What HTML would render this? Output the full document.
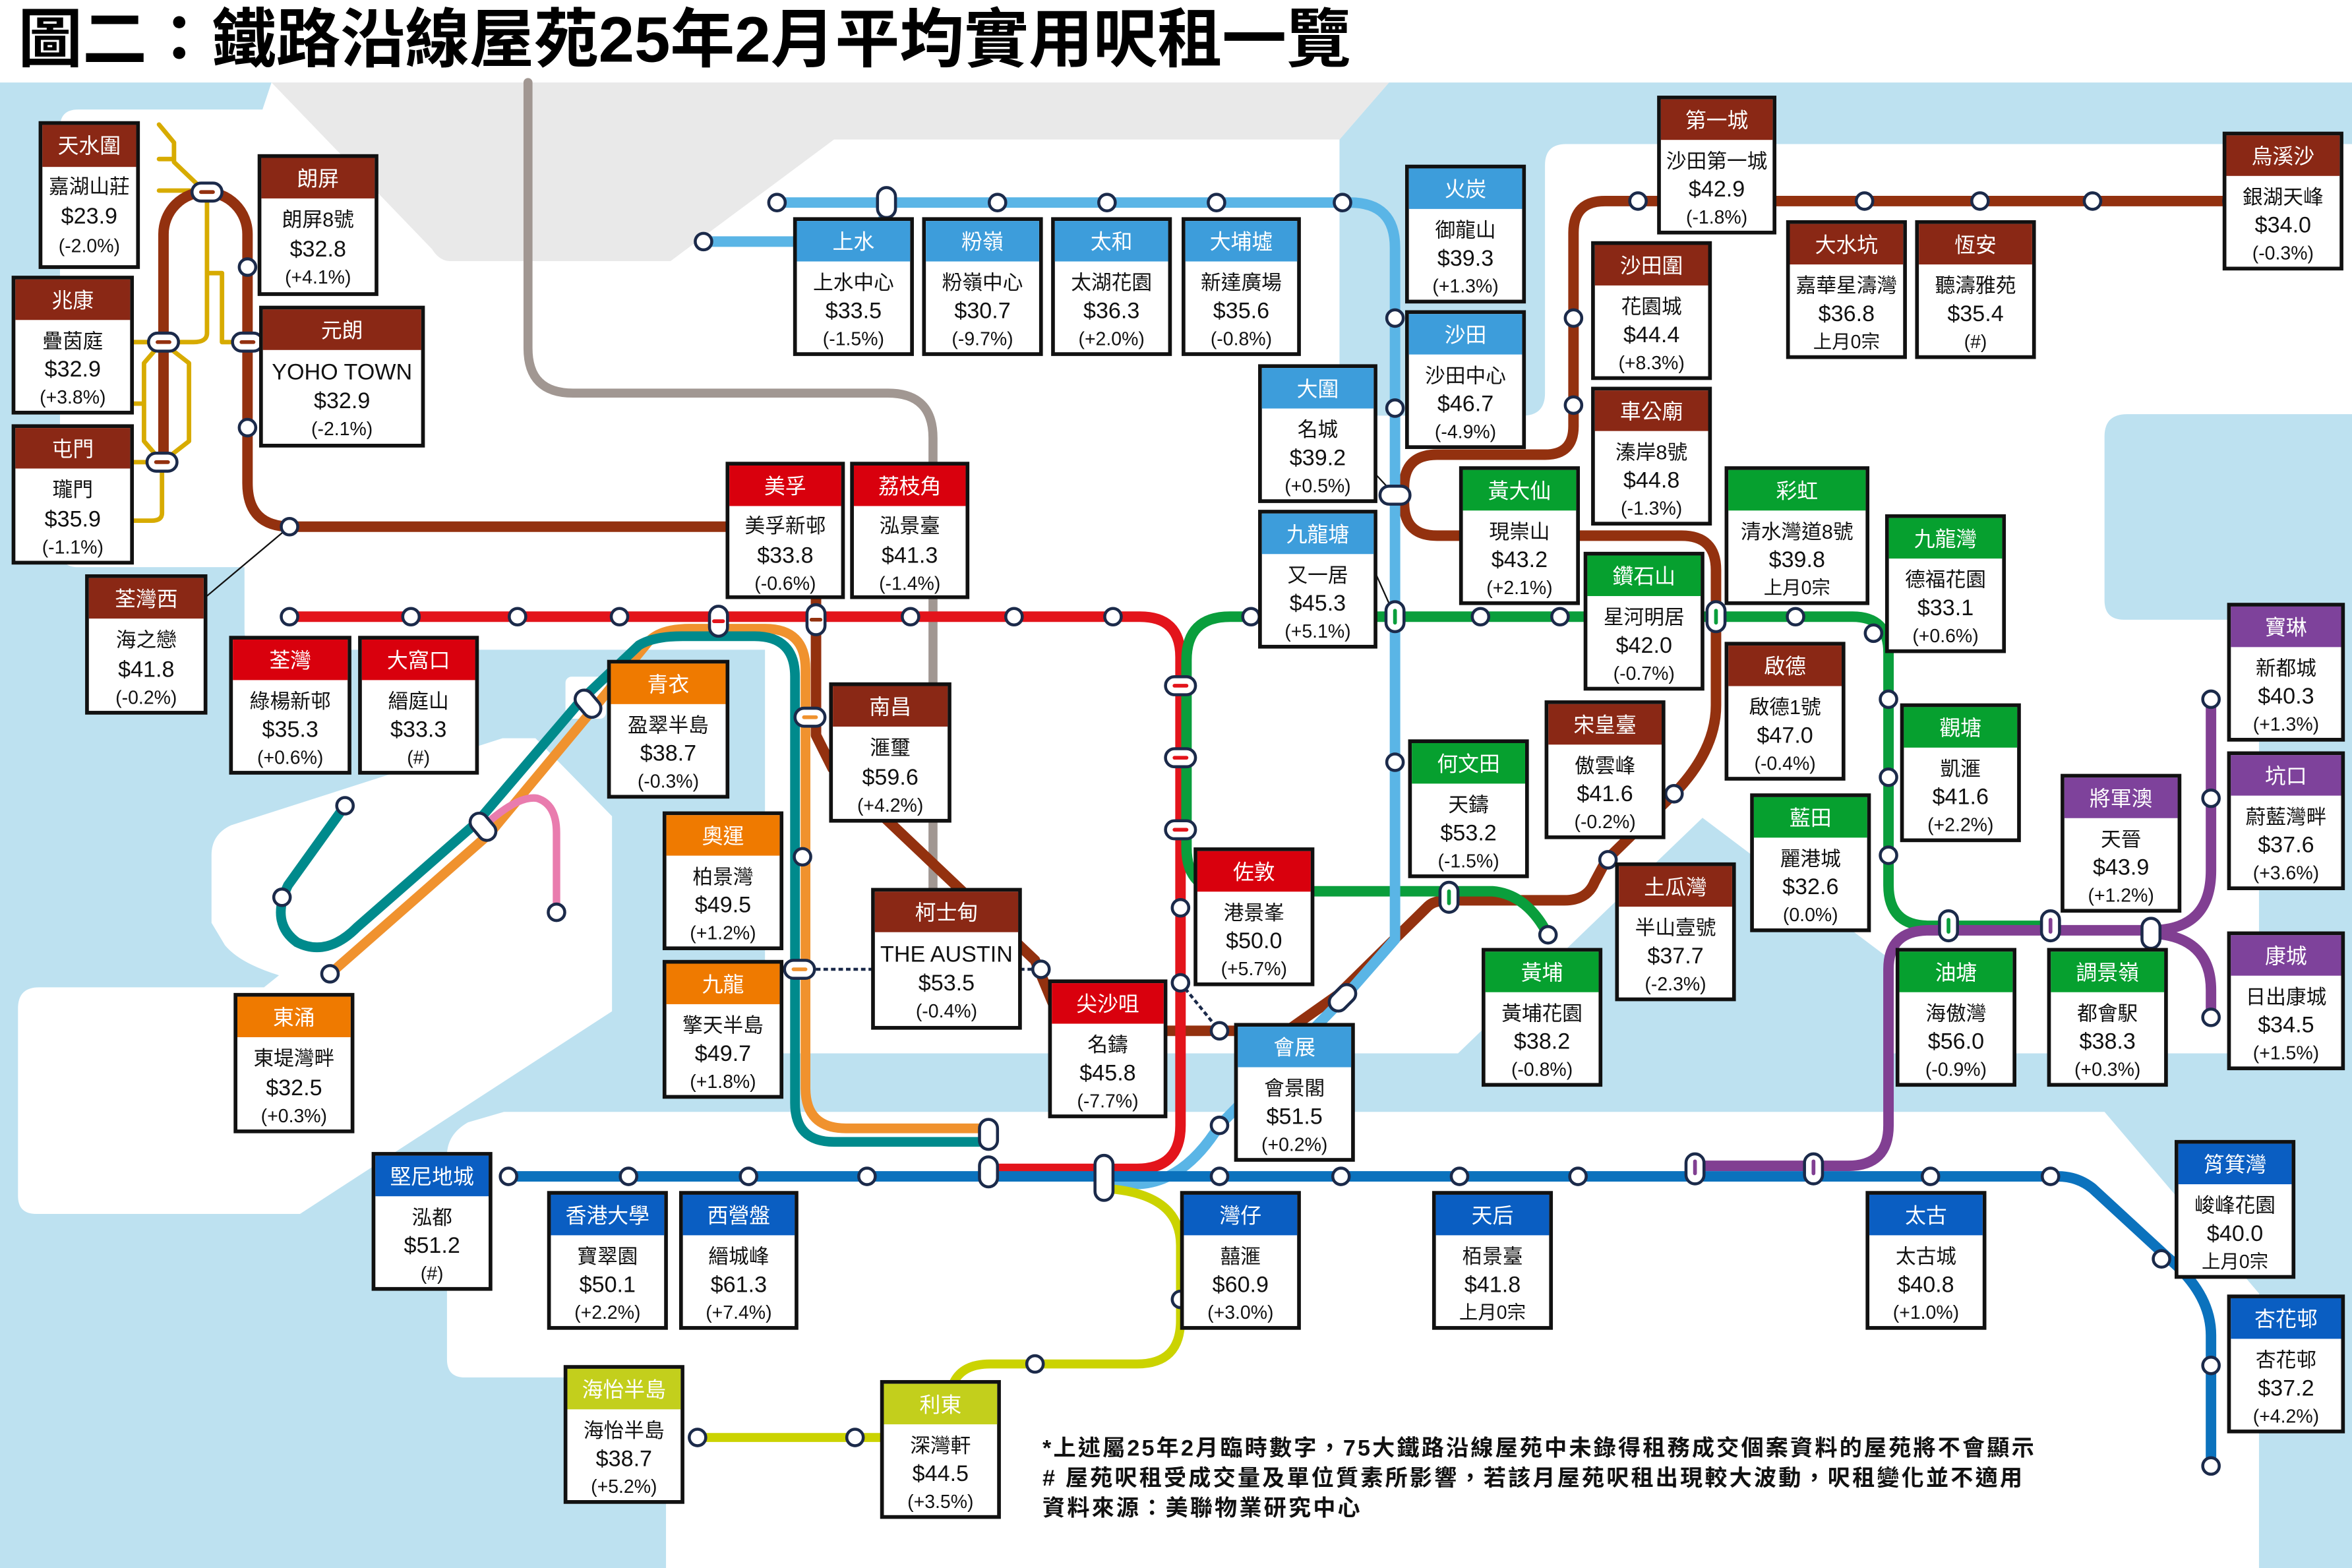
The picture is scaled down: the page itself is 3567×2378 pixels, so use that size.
<!DOCTYPE html>
<html><head><meta charset="utf-8"><style>
html,body{margin:0;padding:0;background:#fff}
svg{display:block}
text{font-family:"Liberation Sans","Noto Sans CJK TC",sans-serif;text-anchor:middle}
.h{fill:#fff;font-size:14px}
.a{fill:#111;font-size:13.5px}
.p{fill:#111;font-size:15px}
.c{fill:#111;font-size:12.5px}
.bx{fill:#fff;stroke:#111;stroke-width:2.5}
.st{fill:#fff;stroke:#1b2a4a;stroke-width:2}
.ic{fill:#fff;stroke:#1b2a4a;stroke-width:2}
.ln{fill:none;stroke-linecap:round;stroke-linejoin:round}
.ft{text-anchor:start;font-size:15px;fill:#111;font-weight:bold;letter-spacing:1.4px}
</style></head><body>
<svg width="3567" height="2378" viewBox="0 0 1568 1045" preserveAspectRatio="none" xmlns="http://www.w3.org/2000/svg">
<rect x="0" y="0" width="1568" height="1045" fill="#fff"/>
<rect x="0" y="55" width="1568" height="990" fill="#bde1f0"/>
<!-- land -->
<path fill="#fff" d="M40,85 Q40,73 52,73 H175 L181,55 H926 L893,93 V262 Q893,277 908,277 H1015 Q1030,277 1030,262 V110 Q1030,96 1044,96 H1568 V276 H1418 Q1403,276 1403,291 V400 Q1403,413 1416,413 H1506 V702 H524 Q510,702 510,688 V433 H176 Q163,433 163,420 V378 H52 Q40,378 40,366 Z"/>
<path fill="#e9e9e9" d="M181,55 H926 L893,93 H556 L447,174 H300 Q293,174 288,166 Z"/>
<path fill="#bde1f0" d="M1135,545 L1257,637 V702 H972 Z"/>
<path fill="#fff" d="M141,570 Q141,556 154,550 L335,492 H357 L408,544 V674 L200,809 H24 Q12,809 12,797 V672 Q12,658 26,658 H176 L186,650 Q160,642 150,630 L141,615 Z"/>
<rect x="377" y="451" width="27" height="28" rx="4" fill="#fff"/>
<path fill="#fff" d="M336,741 H1403 L1506,862 V1045 H444 V918 H310 Q298,918 298,906 V770 Q298,756 312,748 Z"/>

<!-- lines -->
<g class="ln">
<path stroke="#d7ab00" stroke-width="3" d="M106,83 L116,95 V108 L138,129 V222 Q138,228 129,228 H87 M106,106 H116 M106,127 H138 M138,182 H148 V228 H165 M108,228 L96,242 V294 L108,308 M108,228 L126,242 V294 L108,308 M87,269 H96 M87,308 H108 V342 Q108,347 101,347 H87"/>
<path stroke="#a19792" stroke-width="6" d="M352,55 V232 Q352,262 382,262 H592 Q622,262 622,292 V593"/>
<path stroke="#f0922e" stroke-width="6.5" d="M220,649 L326,556 L396,472 L432,428 Q440,419 460,419 H510 Q537,419 537,446 V725 Q537,752 564,752 H659"/>
<path stroke="#008a8c" stroke-width="6.5" d="M230,537 L192,590 Q180,615 198,628 Q218,638 238,618 L318,548 L388,466 L426,430 Q436,424 455,424 H503 Q530,424 530,451 V735 Q530,761 556,761 H659"/>
<path stroke="#e97cae" stroke-width="5" d="M322,551 Q345,530 358,532 Q371,536 371,555 V608"/>
<path stroke="#93310f" stroke-width="7" d="M109,308 V156 A28,28 0 0 1 165,156 V322 Q165,351 194,351 H530 Q544,351 544,365 V490 L555,512 L690,640 L705,676 Q710,687 722,687 H858 L892,663 L952,604 Q956,600 966,600 H1043 Q1058,600 1063,588 L1071,573 L1116,529 Q1144,500 1144,470 V380 Q1144,357 1121,357 H958 Q936,357 936,335 V325 Q936,303 958,303 H1030 Q1049,303 1049,284 V155 Q1049,134 1070,134 H1488"/>
<path stroke="#e3141b" stroke-width="7" d="M193,411 H760 Q787,411 787,438 V750 Q787,779 758,779 H656"/>
<path stroke="#0a9e3c" stroke-width="7" d="M1032,623 Q1018,596 995,594 H820 Q791,594 791,565 V440 Q791,411 820,411 H1235 Q1259,411 1259,435 V590 Q1259,617 1286,617 H1367"/>
<path stroke="#813f92" stroke-width="7" d="M1130,777 H1232 Q1259,777 1259,750 V646 Q1259,620 1286,620 H1434 Q1474,620 1474,580 V466 M1434,622 Q1474,624 1474,660 V678"/>
<path stroke="#5ab5e6" stroke-width="7" d="M469,161 H565 Q585,161 591,140 M518,135 H900 Q930,135 930,165 V626 L895,666 L813,750 Q790,787 760,789 H736"/>
<path stroke="#0b72bd" stroke-width="7" d="M339,784 H1372 Q1385,784 1395,792 L1445,838 Q1474,862 1474,890 V977"/>
<path stroke="#cbd300" stroke-width="6" d="M736,792 Q787,795 787,830 V880 Q787,909 758,909 H660 Q642,909 636,921 M465,958 H588"/>
</g>
<line x1="193" y1="351" x2="137" y2="398" stroke="#111" stroke-width="1"/>
<line x1="917" y1="316" x2="930" y2="330" stroke="#111" stroke-width="1"/>
<line x1="917" y1="382" x2="930" y2="411" stroke="#111" stroke-width="1"/>
<g stroke="#1b2a4a" stroke-width="2" stroke-dasharray="3,2">
<line x1="539" y1="646" x2="582" y2="646"/><line x1="680" y1="646" x2="694" y2="646"/><line x1="787" y1="655" x2="813" y2="687"/>
</g>

<!-- stations -->
<g class="st">
<circle cx="165" cy="178" r="5.5"/><circle cx="165" cy="285" r="5.5"/><circle cx="193" cy="351" r="5.5"/>
<circle cx="1049" cy="212" r="5.5"/><circle cx="1049" cy="270" r="5.5"/><circle cx="1092" cy="134" r="5.5"/><circle cx="1243" cy="134" r="5.5"/><circle cx="1320" cy="134" r="5.5"/><circle cx="1395" cy="134" r="5.5"/><circle cx="1488" cy="134" r="5.5"/>
<circle cx="813" cy="687" r="5.5"/><circle cx="1072" cy="573" r="5.5"/><circle cx="1116" cy="529" r="5.5"/><circle cx="694" cy="646" r="5.5"/>
<circle cx="193" cy="411" r="5.5"/><circle cx="274" cy="411" r="5.5"/><circle cx="345" cy="411" r="5.5"/><circle cx="413" cy="411" r="5.5"/><circle cx="607" cy="411" r="5.5"/><circle cx="676" cy="411" r="5.5"/><circle cx="742" cy="411" r="5.5"/><circle cx="787" cy="605" r="5.5"/><circle cx="787" cy="655" r="5.5"/>
<circle cx="834" cy="411" r="5.5"/><circle cx="987" cy="411" r="5.5"/><circle cx="1040" cy="411" r="5.5"/><circle cx="1197" cy="411" r="5.5"/><circle cx="1249" cy="422" r="5.5"/><circle cx="1259" cy="466" r="5.5"/><circle cx="1259" cy="518" r="5.5"/><circle cx="1259" cy="570" r="5.5"/><circle cx="1032" cy="623" r="5.5"/>
<circle cx="518" cy="135" r="5.5"/><circle cx="469" cy="161" r="5.5"/><circle cx="665" cy="135" r="5.5"/><circle cx="738" cy="135" r="5.5"/><circle cx="811" cy="135" r="5.5"/><circle cx="895" cy="135" r="5.5"/><circle cx="930" cy="212" r="5.5"/><circle cx="930" cy="272" r="5.5"/><circle cx="930" cy="508" r="5.5"/><circle cx="813" cy="750" r="5.5"/>
<circle cx="220" cy="649" r="5.5"/><circle cx="230" cy="537" r="5.5"/><circle cx="188" cy="598" r="5.5"/><circle cx="535" cy="571" r="5.5"/><circle cx="371" cy="608" r="5.5"/>
<circle cx="339" cy="784" r="5.5"/><circle cx="419" cy="784" r="5.5"/><circle cx="499" cy="784" r="5.5"/><circle cx="578" cy="784" r="5.5"/><circle cx="813" cy="784" r="5.5"/><circle cx="894" cy="784" r="5.5"/><circle cx="973" cy="784" r="5.5"/><circle cx="1052" cy="784" r="5.5"/><circle cx="1287" cy="784" r="5.5"/><circle cx="1367" cy="784" r="5.5"/><circle cx="1441" cy="839" r="5.5"/><circle cx="1474" cy="910" r="5.5"/><circle cx="1474" cy="977" r="5.5"/>
<circle cx="1474" cy="466" r="5.5"/><circle cx="1474" cy="532" r="5.5"/><circle cx="1474" cy="678" r="5.5"/>
<circle cx="787" cy="866" r="5.5"/><circle cx="690" cy="909" r="5.5"/><circle cx="465" cy="958" r="5.5"/><circle cx="570" cy="958" r="5.5"/>
</g>
<!-- interchanges -->
<g class="ic">
<rect x="128" y="122" width="20" height="12" rx="6"/><rect x="99" y="222" width="20" height="12" rx="6"/><rect x="155" y="222" width="20" height="12" rx="6"/><rect x="98" y="302" width="20" height="12" rx="6"/>
<rect x="473" y="404" width="12" height="20" rx="6"/><rect x="538" y="403" width="12" height="20" rx="6"/>
<rect x="777" y="451" width="20" height="12" rx="6"/><rect x="777" y="499" width="20" height="12" rx="6"/><rect x="777" y="547" width="20" height="12" rx="6"/>
<rect x="530" y="472" width="20" height="12" rx="6"/><rect x="523" y="640" width="20" height="12" rx="6"/>
<rect x="386" y="459" width="12" height="20" rx="6" transform="rotate(-40 392 469)"/><rect x="316" y="541" width="12" height="20" rx="6" transform="rotate(-40 322 551)"/>
<rect x="920" y="324" width="20" height="12" rx="6"/><rect x="924" y="401" width="12" height="20" rx="6"/><rect x="1138" y="401" width="12" height="20" rx="6"/><rect x="960" y="588" width="12" height="20" rx="6"/>
<rect x="1293" y="607" width="12" height="20" rx="6"/><rect x="1361" y="607" width="12" height="20" rx="6"/><rect x="1428" y="612" width="12" height="20" rx="6"/>
<rect x="889" y="655" width="12" height="20" rx="6" transform="rotate(45 895 665)"/><rect x="585" y="125" width="12" height="20" rx="6"/>
<rect x="653" y="746" width="12" height="20" rx="6"/><rect x="653" y="771" width="12" height="20" rx="6"/><rect x="730" y="770" width="12" height="30" rx="6"/>
<rect x="1124" y="769" width="12" height="20" rx="6"/><rect x="1203" y="769" width="12" height="20" rx="6"/>
</g>
<!-- interchange inner marks -->
<g stroke-width="2.5" stroke-linecap="round">
<line x1="476" y1="414" x2="482" y2="414" stroke="#e3141b"/><line x1="541" y1="413" x2="547" y2="413" stroke="#93310f"/>
<line x1="783" y1="457" x2="791" y2="457" stroke="#e3141b"/><line x1="783" y1="505" x2="791" y2="505" stroke="#e3141b"/><line x1="783" y1="553" x2="791" y2="553" stroke="#e3141b"/>
<line x1="536" y1="478" x2="544" y2="478" stroke="#f0922e"/><line x1="529" y1="646" x2="537" y2="646" stroke="#f0922e"/>
<line x1="930" y1="407" x2="930" y2="415" stroke="#0a9e3c"/><line x1="1144" y1="407" x2="1144" y2="415" stroke="#0a9e3c"/><line x1="966" y1="594" x2="966" y2="602" stroke="#0a9e3c"/>
<line x1="1299" y1="613" x2="1299" y2="621" stroke="#0a9e3c"/><line x1="1367" y1="613" x2="1367" y2="621" stroke="#813f92"/>
<line x1="1130" y1="774" x2="1130" y2="782" stroke="#813f92"/><line x1="1209" y1="774" x2="1209" y2="782" stroke="#813f92"/>
<line x1="134" y1="128" x2="142" y2="128" stroke="#93310f"/><line x1="105" y1="228" x2="113" y2="228" stroke="#93310f"/><line x1="161" y1="228" x2="169" y2="228" stroke="#93310f"/><line x1="104" y1="308" x2="112" y2="308" stroke="#93310f"/>
</g>

<!-- title -->
<text x="12" y="41" style="text-anchor:start;font-size:43px;font-weight:bold;fill:#000">圖二：鐵路沿線屋苑25年2月平均實用呎租一覽</text>

<!-- boxes -->
<g transform="translate(27,82)"><rect class="bx" width="65" height="96"/><rect x="1.25" y="1.25" width="62.5" height="28" fill="#8a2815"/><text class="h" x="32.5" y="20">天水圍</text><text class="a" x="32.5" y="47">嘉湖山莊</text><text class="p" x="32.5" y="67">$23.9</text><text class="c" x="32.5" y="86">(-2.0%)</text></g>
<g transform="translate(173,104)"><rect class="bx" width="78" height="92"/><rect x="1.25" y="1.25" width="75.5" height="27" fill="#8a2815"/><text class="h" x="39" y="20">朗屏</text><text class="a" x="39" y="47">朗屏8號</text><text class="p" x="39" y="67">$32.8</text><text class="c" x="39" y="85">(+4.1%)</text></g>
<g transform="translate(9,185)"><rect class="bx" width="79" height="90"/><rect x="1.25" y="1.25" width="76.5" height="27" fill="#8a2815"/><text class="h" x="39.5" y="20">兆康</text><text class="a" x="39.5" y="47">疊茵庭</text><text class="p" x="39.5" y="66">$32.9</text><text class="c" x="39.5" y="84">(+3.8%)</text></g>
<g transform="translate(174,205)"><rect class="bx" width="108" height="92"/><rect x="1.25" y="1.25" width="105.5" height="27" fill="#8a2815"/><text class="h" x="54" y="20">元朗</text><text class="a" x="54" y="48" style="font-size:15px">YOHO TOWN</text><text class="p" x="54" y="67">$32.9</text><text class="c" x="54" y="85">(-2.1%)</text></g>
<g transform="translate(9,284)"><rect class="bx" width="79" height="91"/><rect x="1.25" y="1.25" width="76.5" height="27" fill="#8a2815"/><text class="h" x="39.5" y="20">屯門</text><text class="a" x="39.5" y="47">瓏門</text><text class="p" x="39.5" y="67">$35.9</text><text class="c" x="39.5" y="85">(-1.1%)</text></g>
<g transform="translate(58,384)"><rect class="bx" width="79" height="91"/><rect x="1.25" y="1.25" width="76.5" height="27" fill="#8a2815"/><text class="h" x="39.5" y="20">荃灣西</text><text class="a" x="39.5" y="47">海之戀</text><text class="p" x="39.5" y="67">$41.8</text><text class="c" x="39.5" y="85">(-0.2%)</text></g>
<g transform="translate(485,309)"><rect class="bx" width="77" height="89"/><rect x="1.25" y="1.25" width="74.5" height="27" fill="#d9000d"/><text class="h" x="38.5" y="20">美孚</text><text class="a" x="38.5" y="46">美孚新邨</text><text class="p" x="38.5" y="66">$33.8</text><text class="c" x="38.5" y="84">(-0.6%)</text></g>
<g transform="translate(568,309)"><rect class="bx" width="77" height="89"/><rect x="1.25" y="1.25" width="74.5" height="27" fill="#d9000d"/><text class="h" x="38.5" y="20">荔枝角</text><text class="a" x="38.5" y="46">泓景臺</text><text class="p" x="38.5" y="66">$41.3</text><text class="c" x="38.5" y="84">(-1.4%)</text></g>
<g transform="translate(154,425)"><rect class="bx" width="79" height="90"/><rect x="1.25" y="1.25" width="76.5" height="27" fill="#d9000d"/><text class="h" x="39.5" y="20">荃灣</text><text class="a" x="39.5" y="47">綠楊新邨</text><text class="p" x="39.5" y="66">$35.3</text><text class="c" x="39.5" y="84">(+0.6%)</text></g>
<g transform="translate(240,425)"><rect class="bx" width="78" height="90"/><rect x="1.25" y="1.25" width="75.5" height="27" fill="#d9000d"/><text class="h" x="39" y="20">大窩口</text><text class="a" x="39" y="47">縉庭山</text><text class="p" x="39" y="66">$33.3</text><text class="c" x="39" y="84">(#)</text></g>
<g transform="translate(406,441)"><rect class="bx" width="79" height="90"/><rect x="1.25" y="1.25" width="76.5" height="27" fill="#ef7a00"/><text class="h" x="39.5" y="20">青衣</text><text class="a" x="39.5" y="47">盈翠半島</text><text class="p" x="39.5" y="66">$38.7</text><text class="c" x="39.5" y="84">(-0.3%)</text></g>
<g transform="translate(554,456)"><rect class="bx" width="79" height="91"/><rect x="1.25" y="1.25" width="76.5" height="27" fill="#8a2815"/><text class="h" x="39.5" y="20">南昌</text><text class="a" x="39.5" y="47">滙璽</text><text class="p" x="39.5" y="67">$59.6</text><text class="c" x="39.5" y="85">(+4.2%)</text></g>
<g transform="translate(443,542)"><rect class="bx" width="78" height="90"/><rect x="1.25" y="1.25" width="75.5" height="27" fill="#ef7a00"/><text class="h" x="39" y="20">奧運</text><text class="a" x="39" y="47">柏景灣</text><text class="p" x="39" y="66">$49.5</text><text class="c" x="39" y="84">(+1.2%)</text></g>
<g transform="translate(443,641)"><rect class="bx" width="78" height="90"/><rect x="1.25" y="1.25" width="75.5" height="27" fill="#ef7a00"/><text class="h" x="39" y="20">九龍</text><text class="a" x="39" y="47">擎天半島</text><text class="p" x="39" y="66">$49.7</text><text class="c" x="39" y="84">(+1.8%)</text></g>
<g transform="translate(582,593)"><rect class="bx" width="98" height="92"/><rect x="1.25" y="1.25" width="95.5" height="27" fill="#8a2815"/><text class="h" x="49" y="20">柯士甸</text><text class="a" x="49" y="48" style="font-size:15px">THE AUSTIN</text><text class="p" x="49" y="67">$53.5</text><text class="c" x="49" y="85">(-0.4%)</text></g>
<g transform="translate(157,663)"><rect class="bx" width="78" height="91"/><rect x="1.25" y="1.25" width="75.5" height="27" fill="#ef7a00"/><text class="h" x="39" y="20">東涌</text><text class="a" x="39" y="47">東堤灣畔</text><text class="p" x="39" y="67">$32.5</text><text class="c" x="39" y="85">(+0.3%)</text></g>
<g transform="translate(700,654)"><rect class="bx" width="77" height="90"/><rect x="1.25" y="1.25" width="74.5" height="27" fill="#d9000d"/><text class="h" x="38.5" y="20">尖沙咀</text><text class="a" x="38.5" y="47">名鑄</text><text class="p" x="38.5" y="66">$45.8</text><text class="c" x="38.5" y="84">(-7.7%)</text></g>
<g transform="translate(797,566)"><rect class="bx" width="78" height="90"/><rect x="1.25" y="1.25" width="75.5" height="27" fill="#d9000d"/><text class="h" x="39" y="20">佐敦</text><text class="a" x="39" y="47">港景峯</text><text class="p" x="39" y="66">$50.0</text><text class="c" x="39" y="84">(+5.7%)</text></g>
<g transform="translate(824,683)"><rect class="bx" width="78" height="90"/><rect x="1.25" y="1.25" width="75.5" height="27" fill="#3d9ddb"/><text class="h" x="39" y="20">會展</text><text class="a" x="39" y="47">會景閣</text><text class="p" x="39" y="66">$51.5</text><text class="c" x="39" y="84">(+0.2%)</text></g>
<g transform="translate(530,146)"><rect class="bx" width="78" height="90"/><rect x="1.25" y="1.25" width="75.5" height="27" fill="#3d9ddb"/><text class="h" x="39" y="20">上水</text><text class="a" x="39" y="47">上水中心</text><text class="p" x="39" y="66">$33.5</text><text class="c" x="39" y="84">(-1.5%)</text></g>
<g transform="translate(616,146)"><rect class="bx" width="78" height="90"/><rect x="1.25" y="1.25" width="75.5" height="27" fill="#3d9ddb"/><text class="h" x="39" y="20">粉嶺</text><text class="a" x="39" y="47">粉嶺中心</text><text class="p" x="39" y="66">$30.7</text><text class="c" x="39" y="84">(-9.7%)</text></g>
<g transform="translate(702,146)"><rect class="bx" width="78" height="90"/><rect x="1.25" y="1.25" width="75.5" height="27" fill="#3d9ddb"/><text class="h" x="39" y="20">太和</text><text class="a" x="39" y="47">太湖花園</text><text class="p" x="39" y="66">$36.3</text><text class="c" x="39" y="84">(+2.0%)</text></g>
<g transform="translate(789,146)"><rect class="bx" width="77" height="90"/><rect x="1.25" y="1.25" width="74.5" height="27" fill="#3d9ddb"/><text class="h" x="38.5" y="20">大埔墟</text><text class="a" x="38.5" y="47">新達廣場</text><text class="p" x="38.5" y="66">$35.6</text><text class="c" x="38.5" y="84">(-0.8%)</text></g>
<g transform="translate(938,111)"><rect class="bx" width="78" height="90"/><rect x="1.25" y="1.25" width="75.5" height="27" fill="#3d9ddb"/><text class="h" x="39" y="20">火炭</text><text class="a" x="39" y="47">御龍山</text><text class="p" x="39" y="66">$39.3</text><text class="c" x="39" y="84">(+1.3%)</text></g>
<g transform="translate(938,208)"><rect class="bx" width="78" height="90"/><rect x="1.25" y="1.25" width="75.5" height="27" fill="#3d9ddb"/><text class="h" x="39" y="20">沙田</text><text class="a" x="39" y="47">沙田中心</text><text class="p" x="39" y="66">$46.7</text><text class="c" x="39" y="84">(-4.9%)</text></g>
<g transform="translate(840,244)"><rect class="bx" width="77" height="90"/><rect x="1.25" y="1.25" width="74.5" height="27" fill="#3d9ddb"/><text class="h" x="38.5" y="20">大圍</text><text class="a" x="38.5" y="47">名城</text><text class="p" x="38.5" y="66">$39.2</text><text class="c" x="38.5" y="84">(+0.5%)</text></g>
<g transform="translate(840,341)"><rect class="bx" width="77" height="90"/><rect x="1.25" y="1.25" width="74.5" height="27" fill="#3d9ddb"/><text class="h" x="38.5" y="20">九龍塘</text><text class="a" x="38.5" y="47">又一居</text><text class="p" x="38.5" y="66">$45.3</text><text class="c" x="38.5" y="84">(+5.1%)</text></g>
<g transform="translate(1106,65)"><rect class="bx" width="77" height="90"/><rect x="1.25" y="1.25" width="74.5" height="27" fill="#8a2815"/><text class="h" x="38.5" y="20">第一城</text><text class="a" x="38.5" y="47">沙田第一城</text><text class="p" x="38.5" y="66">$42.9</text><text class="c" x="38.5" y="84">(-1.8%)</text></g>
<g transform="translate(1062,162)"><rect class="bx" width="78" height="90"/><rect x="1.25" y="1.25" width="75.5" height="27" fill="#8a2815"/><text class="h" x="39" y="20">沙田圍</text><text class="a" x="39" y="47">花園城</text><text class="p" x="39" y="66">$44.4</text><text class="c" x="39" y="84">(+8.3%)</text></g>
<g transform="translate(1062,259)"><rect class="bx" width="78" height="90"/><rect x="1.25" y="1.25" width="75.5" height="27" fill="#8a2815"/><text class="h" x="39" y="20">車公廟</text><text class="a" x="39" y="47">溱岸8號</text><text class="p" x="39" y="66">$44.8</text><text class="c" x="39" y="84">(-1.3%)</text></g>
<g transform="translate(1192,148)"><rect class="bx" width="78" height="90"/><rect x="1.25" y="1.25" width="75.5" height="27" fill="#8a2815"/><text class="h" x="39" y="20">大水坑</text><text class="a" x="39" y="47">嘉華星濤灣</text><text class="p" x="39" y="66">$36.8</text><text class="c" x="39" y="84">上月0宗</text></g>
<g transform="translate(1278,148)"><rect class="bx" width="78" height="90"/><rect x="1.25" y="1.25" width="75.5" height="27" fill="#8a2815"/><text class="h" x="39" y="20">恆安</text><text class="a" x="39" y="47">聽濤雅苑</text><text class="p" x="39" y="66">$35.4</text><text class="c" x="39" y="84">(#)</text></g>
<g transform="translate(1483,89)"><rect class="bx" width="78" height="90"/><rect x="1.25" y="1.25" width="75.5" height="27" fill="#8a2815"/><text class="h" x="39" y="20">烏溪沙</text><text class="a" x="39" y="47">銀湖天峰</text><text class="p" x="39" y="66">$34.0</text><text class="c" x="39" y="84">(-0.3%)</text></g>
<g transform="translate(974,312)"><rect class="bx" width="78" height="90"/><rect x="1.25" y="1.25" width="75.5" height="27" fill="#06a02f"/><text class="h" x="39" y="20">黃大仙</text><text class="a" x="39" y="47">現崇山</text><text class="p" x="39" y="66">$43.2</text><text class="c" x="39" y="84">(+2.1%)</text></g>
<g transform="translate(1057,369)"><rect class="bx" width="78" height="90"/><rect x="1.25" y="1.25" width="75.5" height="27" fill="#06a02f"/><text class="h" x="39" y="20">鑽石山</text><text class="a" x="39" y="47">星河明居</text><text class="p" x="39" y="66">$42.0</text><text class="c" x="39" y="84">(-0.7%)</text></g>
<g transform="translate(1151,312)"><rect class="bx" width="94" height="90"/><rect x="1.25" y="1.25" width="91.5" height="27" fill="#06a02f"/><text class="h" x="47" y="20">彩虹</text><text class="a" x="47" y="47">清水灣道8號</text><text class="p" x="47" y="66">$39.8</text><text class="c" x="47" y="84">上月0宗</text></g>
<g transform="translate(1258,344)"><rect class="bx" width="78" height="90"/><rect x="1.25" y="1.25" width="75.5" height="27" fill="#06a02f"/><text class="h" x="39" y="20">九龍灣</text><text class="a" x="39" y="47">德福花園</text><text class="p" x="39" y="66">$33.1</text><text class="c" x="39" y="84">(+0.6%)</text></g>
<g transform="translate(1151,429)"><rect class="bx" width="78" height="90"/><rect x="1.25" y="1.25" width="75.5" height="27" fill="#8a2815"/><text class="h" x="39" y="20">啟德</text><text class="a" x="39" y="47">啟德1號</text><text class="p" x="39" y="66">$47.0</text><text class="c" x="39" y="84">(-0.4%)</text></g>
<g transform="translate(1031,468)"><rect class="bx" width="78" height="90"/><rect x="1.25" y="1.25" width="75.5" height="27" fill="#8a2815"/><text class="h" x="39" y="20">宋皇臺</text><text class="a" x="39" y="47">傲雲峰</text><text class="p" x="39" y="66">$41.6</text><text class="c" x="39" y="84">(-0.2%)</text></g>
<g transform="translate(940,494)"><rect class="bx" width="78" height="90"/><rect x="1.25" y="1.25" width="75.5" height="27" fill="#06a02f"/><text class="h" x="39" y="20">何文田</text><text class="a" x="39" y="47">天鑄</text><text class="p" x="39" y="66">$53.2</text><text class="c" x="39" y="84">(-1.5%)</text></g>
<g transform="translate(1268,470)"><rect class="bx" width="78" height="90"/><rect x="1.25" y="1.25" width="75.5" height="27" fill="#06a02f"/><text class="h" x="39" y="20">觀塘</text><text class="a" x="39" y="47">凱滙</text><text class="p" x="39" y="66">$41.6</text><text class="c" x="39" y="84">(+2.2%)</text></g>
<g transform="translate(1168,530)"><rect class="bx" width="78" height="90"/><rect x="1.25" y="1.25" width="75.5" height="27" fill="#06a02f"/><text class="h" x="39" y="20">藍田</text><text class="a" x="39" y="47">麗港城</text><text class="p" x="39" y="66">$32.6</text><text class="c" x="39" y="84">(0.0%)</text></g>
<g transform="translate(1078,576)"><rect class="bx" width="78" height="90"/><rect x="1.25" y="1.25" width="75.5" height="27" fill="#8a2815"/><text class="h" x="39" y="20">土瓜灣</text><text class="a" x="39" y="47">半山壹號</text><text class="p" x="39" y="66">$37.7</text><text class="c" x="39" y="84">(-2.3%)</text></g>
<g transform="translate(989,633)"><rect class="bx" width="78" height="90"/><rect x="1.25" y="1.25" width="75.5" height="27" fill="#06a02f"/><text class="h" x="39" y="20">黃埔</text><text class="a" x="39" y="47">黃埔花園</text><text class="p" x="39" y="66">$38.2</text><text class="c" x="39" y="84">(-0.8%)</text></g>
<g transform="translate(1265,633)"><rect class="bx" width="78" height="90"/><rect x="1.25" y="1.25" width="75.5" height="27" fill="#06a02f"/><text class="h" x="39" y="20">油塘</text><text class="a" x="39" y="47">海傲灣</text><text class="p" x="39" y="66">$56.0</text><text class="c" x="39" y="84">(-0.9%)</text></g>
<g transform="translate(1366,633)"><rect class="bx" width="78" height="90"/><rect x="1.25" y="1.25" width="75.5" height="27" fill="#06a02f"/><text class="h" x="39" y="20">調景嶺</text><text class="a" x="39" y="47">都會駅</text><text class="p" x="39" y="66">$38.3</text><text class="c" x="39" y="84">(+0.3%)</text></g>
<g transform="translate(1375,517)"><rect class="bx" width="78" height="90"/><rect x="1.25" y="1.25" width="75.5" height="27" fill="#7e429b"/><text class="h" x="39" y="20">將軍澳</text><text class="a" x="39" y="47">天晉</text><text class="p" x="39" y="66">$43.9</text><text class="c" x="39" y="84">(+1.2%)</text></g>
<g transform="translate(1486,403)"><rect class="bx" width="76" height="90"/><rect x="1.25" y="1.25" width="73.5" height="27" fill="#7e429b"/><text class="h" x="38" y="20">寶琳</text><text class="a" x="38" y="47">新都城</text><text class="p" x="38" y="66">$40.3</text><text class="c" x="38" y="84">(+1.3%)</text></g>
<g transform="translate(1486,502)"><rect class="bx" width="76" height="90"/><rect x="1.25" y="1.25" width="73.5" height="27" fill="#7e429b"/><text class="h" x="38" y="20">坑口</text><text class="a" x="38" y="47">蔚藍灣畔</text><text class="p" x="38" y="66">$37.6</text><text class="c" x="38" y="84">(+3.6%)</text></g>
<g transform="translate(1486,622)"><rect class="bx" width="76" height="90"/><rect x="1.25" y="1.25" width="73.5" height="27" fill="#7e429b"/><text class="h" x="38" y="20">康城</text><text class="a" x="38" y="47">日出康城</text><text class="p" x="38" y="66">$34.5</text><text class="c" x="38" y="84">(+1.5%)</text></g>
<g transform="translate(249,769)"><rect class="bx" width="78" height="90"/><rect x="1.25" y="1.25" width="75.5" height="27" fill="#0a5ec2"/><text class="h" x="39" y="20">堅尼地城</text><text class="a" x="39" y="47">泓都</text><text class="p" x="39" y="66">$51.2</text><text class="c" x="39" y="84">(#)</text></g>
<g transform="translate(366,795)"><rect class="bx" width="78" height="90"/><rect x="1.25" y="1.25" width="75.5" height="27" fill="#0a5ec2"/><text class="h" x="39" y="20">香港大學</text><text class="a" x="39" y="47">寶翠園</text><text class="p" x="39" y="66">$50.1</text><text class="c" x="39" y="84">(+2.2%)</text></g>
<g transform="translate(454,795)"><rect class="bx" width="77" height="90"/><rect x="1.25" y="1.25" width="74.5" height="27" fill="#0a5ec2"/><text class="h" x="38.5" y="20">西營盤</text><text class="a" x="38.5" y="47">縉城峰</text><text class="p" x="38.5" y="66">$61.3</text><text class="c" x="38.5" y="84">(+7.4%)</text></g>
<g transform="translate(788,795)"><rect class="bx" width="78" height="90"/><rect x="1.25" y="1.25" width="75.5" height="27" fill="#0a5ec2"/><text class="h" x="39" y="20">灣仔</text><text class="a" x="39" y="47">囍滙</text><text class="p" x="39" y="66">$60.9</text><text class="c" x="39" y="84">(+3.0%)</text></g>
<g transform="translate(956,795)"><rect class="bx" width="78" height="90"/><rect x="1.25" y="1.25" width="75.5" height="27" fill="#0a5ec2"/><text class="h" x="39" y="20">天后</text><text class="a" x="39" y="47">栢景臺</text><text class="p" x="39" y="66">$41.8</text><text class="c" x="39" y="84">上月0宗</text></g>
<g transform="translate(1245,795)"><rect class="bx" width="78" height="90"/><rect x="1.25" y="1.25" width="75.5" height="27" fill="#0a5ec2"/><text class="h" x="39" y="20">太古</text><text class="a" x="39" y="47">太古城</text><text class="p" x="39" y="66">$40.8</text><text class="c" x="39" y="84">(+1.0%)</text></g>
<g transform="translate(1451,761)"><rect class="bx" width="78" height="90"/><rect x="1.25" y="1.25" width="75.5" height="27" fill="#0a5ec2"/><text class="h" x="39" y="20">筲箕灣</text><text class="a" x="39" y="47">峻峰花園</text><text class="p" x="39" y="66">$40.0</text><text class="c" x="39" y="84">上月0宗</text></g>
<g transform="translate(1486,864)"><rect class="bx" width="76" height="90"/><rect x="1.25" y="1.25" width="73.5" height="27" fill="#0a5ec2"/><text class="h" x="38" y="20">杏花邨</text><text class="a" x="38" y="47">杏花邨</text><text class="p" x="38" y="66">$37.2</text><text class="c" x="38" y="84">(+4.2%)</text></g>
<g transform="translate(377,911)"><rect class="bx" width="78" height="90"/><rect x="1.25" y="1.25" width="75.5" height="27" fill="#c3cf1c"/><text class="h" x="39" y="20">海怡半島</text><text class="a" x="39" y="47">海怡半島</text><text class="p" x="39" y="66">$38.7</text><text class="c" x="39" y="84">(+5.2%)</text></g>
<g transform="translate(588,921)"><rect class="bx" width="78" height="90"/><rect x="1.25" y="1.25" width="75.5" height="27" fill="#c3cf1c"/><text class="h" x="39" y="20">利東</text><text class="a" x="39" y="47">深灣軒</text><text class="p" x="39" y="66">$44.5</text><text class="c" x="39" y="84">(+3.5%)</text></g>

<!-- footnotes -->
<text class="ft" x="695" y="970">*上述屬25年2月臨時數字，75大鐵路沿線屋苑中未錄得租務成交個案資料的屋苑將不會顯示</text>
<text class="ft" x="695" y="990"># 屋苑呎租受成交量及單位質素所影響，若該月屋苑呎租出現較大波動，呎租變化並不適用</text>
<text class="ft" x="695" y="1010">資料來源：美聯物業研究中心</text>
</svg>
</body></html>
